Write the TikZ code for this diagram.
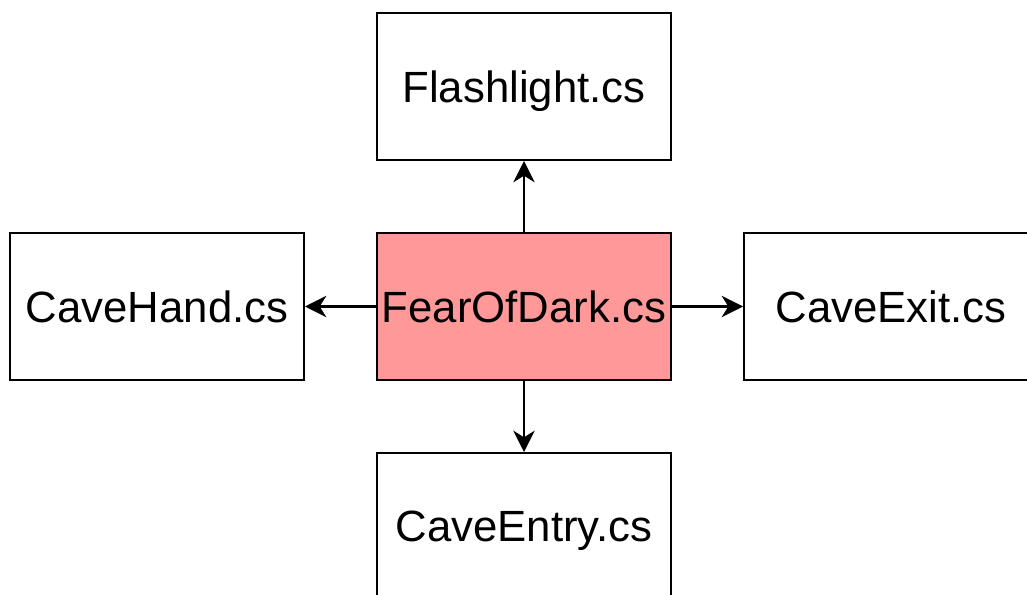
\documentclass[tikz,border=0pt]{standalone}
\usepackage{fontspec}
\setmainfont{Liberation Sans}
\usetikzlibrary{arrows.meta}
\definecolor{mainred}{HTML}{FF9999}
\begin{document}
\begin{tikzpicture}[x=0.75pt,y=-0.75pt,
  file/.style={draw=black,line width=1.5pt,minimum width=220.5pt,minimum height=110.25pt,
    inner sep=0pt,text depth=0pt,font=\fontsize{32.8}{39}\selectfont},
  link/.style={line width=1.6pt,-{Stealth[length=16pt,width=16pt,inset=5pt]}}]
 \useasboundingbox (0,0) rectangle (1027,595);
 \node[file,fill=mainred](fear) at (524,306.5){FearOfDark.cs};
 \node[file](flash) at (524,86.5){Flashlight.cs};
 \node[file](hand) at (157,306.5){CaveHand.cs};
 \node[file](exit) at (891,306.5){CaveExit.cs};
 \node[file](entry) at (524,526.5){CaveEntry.cs};
 \draw[link](fear)--(flash);
 \draw[link](fear)--(hand);
 \draw[link](fear)--(exit);
 \draw[link](fear)--(entry);
\end{tikzpicture}
\end{document}
